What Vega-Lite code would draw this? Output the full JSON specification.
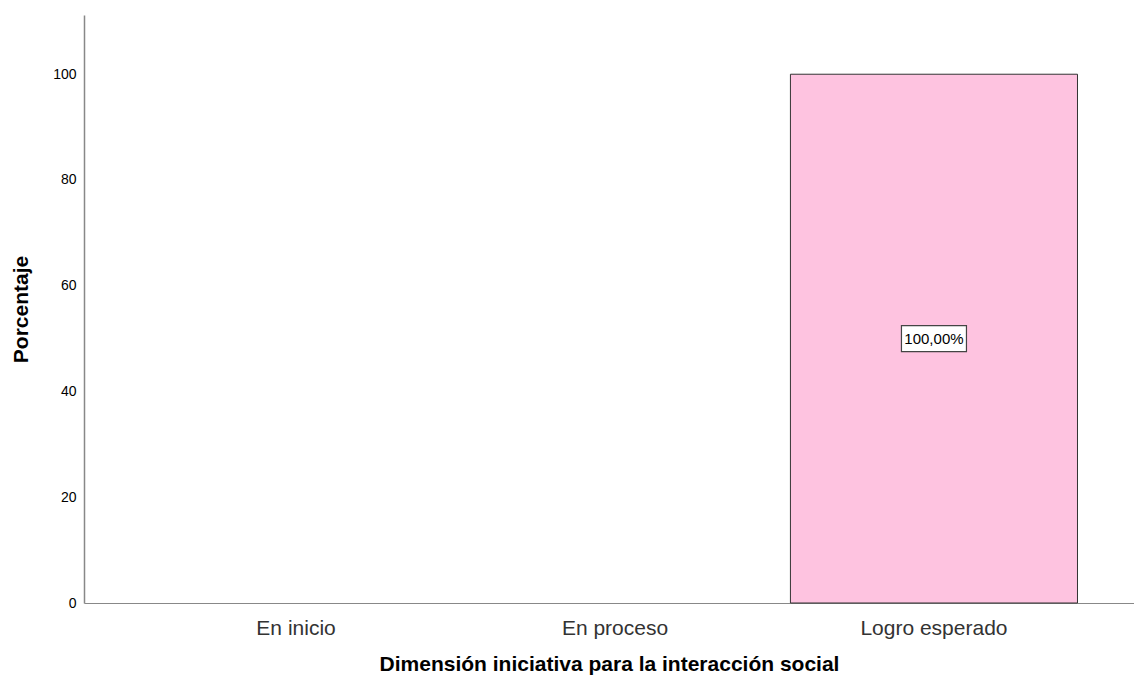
{
  "$schema": "https://vega.github.io/schema/vega-lite/v6.json",
  "width": 1050,
  "height": 588,
  "autosize": "none",
  "padding": {"left": 84, "top": 15, "right": 0, "bottom": 78},
  "background": "white",
  "config": {
    "view": {"stroke": null},
    "font": "Liberation Sans"
  },
  "data": {
    "values": [
      {"categoria": "En inicio", "pct": 0, "etiqueta": ""},
      {"categoria": "En proceso", "pct": 0, "etiqueta": ""},
      {"categoria": "Logro esperado", "pct": 100, "etiqueta": "100,00%"}
    ]
  },
  "encoding": {
    "x": {
      "field": "categoria",
      "type": "nominal",
      "sort": ["En inicio", "En proceso", "Logro esperado"],
      "scale": {"domain": ["En inicio", "En proceso", "Logro esperado"], "paddingInner": 0.1, "paddingOuter": 0.196, "align": 0.548},
      "axis": {
        "title": "Dimensión iniciativa para la interacción social",
        "titleFont": "Liberation Sans",
        "titleFontSize": 21,
        "titleFontWeight": "bold",
        "titleColor": "#000000",
        "titlePadding": 15,
        "labelFont": "Liberation Sans",
        "labelFontSize": 21,
        "labelColor": "#333333",
        "labelAngle": 0,
        "labelPadding": 14,
        "ticks": false,
        "domainColor": "#888888",
        "domainWidth": 1.2
      }
    }
  },
  "layer": [
    {
      "transform": [{"filter": "datum.pct > 0"}],
      "mark": {"type": "bar", "fill": "#FEC3E0", "stroke": "#333333", "strokeWidth": 1},
      "encoding": {
        "y": {
          "field": "pct",
          "type": "quantitative",
          "scale": {"domain": [0, 111.2], "nice": false},
          "axis": {
            "title": "Porcentaje",
            "titleFont": "Liberation Sans",
            "titleFontSize": 21,
            "titleFontWeight": "bold",
            "titleColor": "#000000",
            "titlePadding": 21,
            "values": [0, 20, 40, 60, 80, 100],
            "labelFont": "Liberation Sans",
            "labelFontSize": 14,
            "labelColor": "#000000",
            "labelPadding": 8,
            "ticks": false,
            "grid": false,
            "domainColor": "#888888",
            "domainWidth": 1.5
          }
        }
      }
    },
    {
      "transform": [{"filter": "datum.pct > 0"}, {"calculate": "datum.pct / 2", "as": "mitad"}],
      "mark": {
        "type": "point",
        "shape": "M-1,-0.4L1,-0.4L1,0.4L-1,0.4Z",
        "size": 4225,
        "filled": true,
        "fill": "white",
        "stroke": "#444444",
        "strokeWidth": 1.2,
        "opacity": 1
      },
      "encoding": {
        "y": {"field": "mitad", "type": "quantitative"}
      }
    },
    {
      "transform": [{"filter": "datum.pct > 0"}, {"calculate": "datum.pct / 2", "as": "mitad"}],
      "mark": {"type": "text", "fontSize": 15, "font": "Liberation Sans", "color": "#000000"},
      "encoding": {
        "y": {"field": "mitad", "type": "quantitative"},
        "text": {"field": "etiqueta"}
      }
    }
  ]
}
